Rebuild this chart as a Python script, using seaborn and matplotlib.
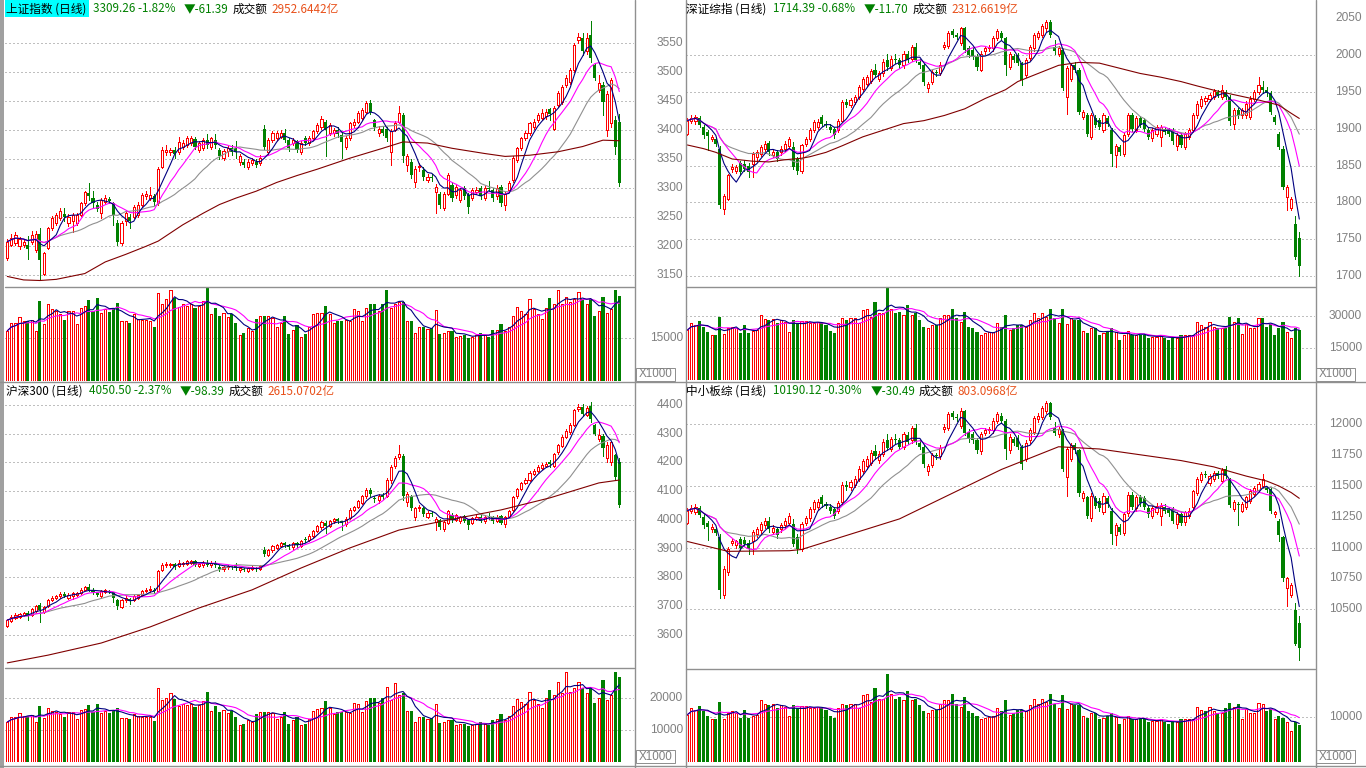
import numpy as np
import pandas as pd
import matplotlib
matplotlib.use("Agg")
import matplotlib.pyplot as plt
from matplotlib.lines import Line2D
from matplotlib.patches import Rectangle
from matplotlib.transforms import blended_transform_factory
import seaborn as sns

sns.set_theme(style="white")
plt.rcParams["font.family"] = ["Noto Sans CJK SC", "DejaVu Sans"]

# ---------------- data: 上证指数 ----------------
sh_open = [3179,3203,3205,3200,3202,3202,3208,3194,3222,3153,
3197,3232,3240,3248,3256,3240,3243,3240,3254,3274,
3292,3283,3271,3257,3277,3281,3274,3240,3205,3243,
3251,3251,3254,3271,3286,3283,3286,3274,3337,3363,
3363,3366,3363,3372,3375,3378,3385,3366,3369,3383,
3372,3383,3366,3353,3364,3369,3369,3346,3346,3337,
3343,3346,3343,3403,3363,3383,3386,3389,3395,3383,
3378,3381,3363,3386,3378,3386,3398,3406,3415,3395,
3395,3400,3392,3372,3386,3409,3415,3421,3432,3447,
3418,3395,3403,3403,3363,3401,3415,3426,3340,3346,
3311,3336,3332,3314,3320,3294,3291,3266,3291,3306,
3289,3280,3300,3289,3283,3294,3300,3283,3301,3297,
3286,3303,3271,3297,3314,3349,3369,3386,3395,3406,
3418,3421,3424,3436,3403,3444,3449,3478,3484,3504,
3556,3559,3536,3564,3513,3470,3478,3400,3412,3418,
3414]
sh_close = [3208,3215,3219,3212,3208,3196,3220,3222,3177,3188,
3232,3248,3254,3260,3250,3251,3254,3254,3274,3294,
3286,3274,3265,3280,3284,3278,3254,3208,3240,3257,
3243,3268,3271,3289,3291,3288,3277,3334,3366,3366,
3366,3360,3380,3378,3386,3386,3372,3378,3383,3375,
3386,3375,3355,3364,3369,3363,3363,3355,3341,3346,
3349,3340,3353,3372,3383,3395,3395,3395,3383,3369,
3383,3366,3378,3378,3386,3398,3409,3420,3400,3409,
3400,3394,3380,3386,3412,3415,3429,3435,3447,3432,
3406,3403,3395,3386,3398,3412,3429,3355,3355,3323,
3334,3339,3320,3320,3317,3303,3271,3291,3323,3283,
3303,3297,3286,3268,3297,3297,3286,3300,3299,3283,
3300,3274,3291,3309,3352,3369,3386,3395,3412,3415,
3426,3429,3431,3428,3438,3464,3475,3490,3504,3547,
3561,3536,3559,3524,3490,3481,3449,3462,3487,3370.65,
3309.26]
sh_high = [3212,3222,3225,3216,3212,3218,3227,3226,3231,3191,
3234,3252,3258,3266,3266,3256,3258,3258,3276,3296,
3309,3295,3276,3283,3288,3285,3277,3245,3243,3262,
3256,3272,3276,3292,3296,3303,3290,3336,3372,3375,
3370,3372,3388,3383,3391,3391,3389,3382,3387,3393,
3389,3394,3370,3368,3373,3374,3381,3360,3351,3350,
3353,3350,3357,3410,3386,3399,3399,3400,3403,3386,
3387,3384,3381,3390,3390,3401,3412,3424,3418,3413,
3404,3405,3396,3390,3415,3420,3433,3439,3450,3452,
3420,3407,3408,3406,3402,3416,3442,3430,3359,3350,
3338,3344,3336,3325,3325,3308,3294,3294,3326,3310,
3306,3300,3304,3292,3300,3302,3304,3304,3312,3300,
3305,3306,3294,3312,3355,3372,3389,3399,3415,3419,
3430,3436,3436,3439,3442,3467,3478,3496,3508,3550,
3567,3568,3568,3588,3516,3495,3484,3468,3490,3425,
3428]
sh_low = [3176,3200,3202,3195,3198,3178,3204,3190,3142,3150,
3195,3228,3236,3245,3244,3235,3225,3236,3252,3271,
3280,3268,3260,3248,3273,3274,3237,3202,3203,3236,
3232,3248,3250,3268,3282,3280,3272,3272,3335,3358,
3358,3352,3360,3368,3372,3374,3368,3362,3366,3370,
3368,3370,3350,3348,3355,3358,3352,3340,3336,3334,
3340,3336,3340,3368,3360,3380,3383,3386,3380,3365,
3374,3362,3360,3374,3374,3383,3395,3403,3355,3392,
3390,3388,3352,3368,3383,3405,3412,3418,3429,3428,
3400,3390,3392,3382,3340,3398,3412,3346,3330,3318,
3303,3330,3315,3310,3312,3257,3266,3262,3288,3278,
3284,3276,3282,3257,3280,3290,3282,3280,3296,3278,
3282,3270,3262,3294,3310,3346,3366,3383,3392,3403,
3414,3418,3420,3418,3400,3440,3446,3475,3480,3500,
3550,3530,3532,3518,3486,3466,3426,3390,3405,3359,
3304]
sh_vol = [17500,20200,20200,22300,20800,20800,21400,17500,28000,19900,
27000,25000,24400,23200,21400,24400,24400,19900,25600,26200,
28200,24400,28900,23600,25200,24000,25000,27100,20800,20800,
20200,23200,21800,21400,21400,21100,19000,30600,27000,28600,
31800,28900,25800,26800,26200,26800,25300,26200,28000,32700,
23200,25600,22600,23800,22300,23200,20200,16100,16700,18400,
17500,21800,22600,22600,22600,22000,19000,20200,22600,16300,
17900,19600,15500,16300,19000,23200,23800,23800,26200,23400,
20200,21100,21100,21400,20800,25000,24400,20800,25600,26800,
27000,24400,27000,31800,25600,27000,27400,27400,20800,20800,
16700,19000,19000,18200,18400,24600,16300,16700,17300,17500,
15500,15800,16100,15100,15500,16100,16700,16100,15500,17900,
17900,19900,17300,19000,22600,25800,24400,23200,28600,25000,
23200,21800,25300,28900,26800,31800,26800,29200,27400,28600,
30900,28600,27000,28600,22600,24400,29400,23800,25000,31800,
29800]
sh_lma_idx = [0,4,8,12,19,24,29,34,37,40,43,48,52,56,61,66,71,76,84,92,97,103,109,117,122,128,135,141,146,150]
sh_lma_val = [3148,3142,3141,3143,3153,3173,3186,3200,3209,3223,3237,3257,3272,3283,3295,3310,3322,3333,3352,3369,3380,3378,3369,3360,3355,3357,3363,3372,3383,3382]

# ---------------- data: 深证综指 ----------------
sz_open = [1893,1911,1910,1914,1902,1895,1886,1886,1873,1791,
1805,1846,1843,1853,1852,1850,1852,1862,1866,1873,
1880,1865,1868,1868,1873,1877,1875,1859,1843,1880,
1886,1898,1902,1916,1907,1902,1900,1898,1911,1936,
1932,1936,1943,1954,1961,1965,1980,1968,1975,1993,
1982,1995,1993,1986,2001,1995,2011,1991,1986,1955,
1964,1977,1976,2011,2012,2032,2027,2016,2036,2009,
2007,1998,1980,2005,2009,2009,2023,2030,2023,1984,
1998,2000,1989,1973,1996,2009,2025,2027,2036,2045,
2011,2002,2007,1943,1968,1986,1980,1916,1918,1889,
1915,1912,1898,1914,1898,1864,1875,1866,1893,1918,
1898,1914,1912,1898,1887,1893,1889,1900,1898,1898,
1877,1891,1875,1889,1898,1918,1931,1937,1941,1943,
1950,1943,1950,1943,1907,1925,1918,1918,1916,1941,
1950,1956,1953,1948,1916,1893,1873,1807,1793,1771,
1752]
sz_close = [1911,1915,1916,1905,1891,1890,1889,1880,1796,1809,
1837,1848,1848,1841,1846,1841,1866,1868,1875,1880,
1868,1869,1859,1873,1880,1886,1848,1843,1878,1886,
1898,1909,1909,1907,1905,1898,1891,1910,1936,1932,
1939,1943,1957,1967,1970,1978,1973,1975,1991,1984,
1995,1993,1986,2002,1993,2011,1993,1986,1964,1961,
1977,1975,1987,2014,2030,2027,2025,2036,2007,2000,
1998,1984,2002,2009,2011,2023,2032,2023,1986,2001,
1993,1989,1966,1993,2011,2027,2030,2039,2045,2027,
2005,2009,1955,1982,1986,1980,1923,1923,1893,1918,
1905,1902,1918,1907,1866,1877,1868,1891,1918,1900,
1914,1905,1900,1889,1898,1902,1902,1896,1893,1883,
1891,1878,1893,1898,1918,1934,1941,1942,1946,1951,
1946,1952,1943,1911,1925,1918,1925,1934,1941,1950,
1960,1952,1948,1923,1909,1875,1821,1821,1805,1726.09,
1714.39]
sz_high = [1914,1918,1919,1917,1905,1898,1892,1889,1876,1812,
1839,1852,1851,1856,1857,1853,1868,1871,1878,1883,
1884,1872,1871,1876,1883,1889,1882,1862,1880,1889,
1901,1912,1913,1919,1911,1906,1903,1913,1939,1940,
1942,1946,1960,1970,1973,1981,1988,1978,1994,2001,
1998,2001,1996,2005,2005,2014,2016,1994,1988,1964,
1980,1980,1990,2017,2033,2035,2030,2038,2038,2012,
2010,2001,2005,2012,2014,2026,2035,2033,2025,2004,
2001,2003,1991,1996,2014,2030,2033,2042,2047,2047,
2020,2012,2010,1985,1989,1990,1983,1926,1921,1921,
1918,1915,1921,1917,1901,1880,1878,1894,1921,1921,
1917,1917,1915,1901,1901,1905,1905,1903,1901,1901,
1894,1894,1896,1901,1921,1937,1944,1945,1949,1954,
1953,1960,1953,1946,1928,1928,1928,1937,1944,1953,
1970,1965,1956,1951,1919,1896,1876,1824,1808,1782,
1760]
sz_low = [1891,1908,1907,1902,1888,1871,1883,1876,1793,1784,
1803,1842,1840,1838,1843,1834,1834,1858,1863,1870,
1865,1862,1856,1865,1870,1874,1845,1838,1840,1877,
1883,1895,1899,1904,1902,1895,1888,1895,1909,1929,
1929,1933,1940,1951,1958,1962,1970,1965,1972,1980,
1979,1989,1982,1983,1990,1992,1990,1983,1960,1950,
1961,1972,1973,2008,2009,2024,2022,2013,2004,1997,
1995,1980,1978,2002,2006,2006,2020,2020,1973,1981,
1990,1986,1960,1970,1993,2006,2022,2024,2033,2024,
2002,1999,1952,1920,1965,1977,1920,1913,1890,1886,
1902,1899,1895,1904,1850,1848,1865,1863,1890,1897,
1895,1902,1897,1886,1884,1890,1876,1893,1890,1880,
1871,1875,1872,1886,1895,1915,1928,1934,1938,1940,
1943,1940,1940,1905,1900,1915,1915,1915,1913,1938,
1947,1949,1945,1920,1906,1872,1818,1790,1790,1724,
1700]
sz_vol = [23400,26600,25700,27600,25000,22600,21100,21100,29600,21400,
24200,25000,24200,21800,25700,21800,22900,23400,30700,28500,
28100,28500,26600,28100,27300,22600,28100,26600,27600,27600,
26600,26600,27300,26600,25700,22900,21800,26600,28900,28100,
28900,28900,26600,32800,33500,29600,36700,31200,31200,42900,
33500,31200,32000,30400,35100,30400,31200,28100,25000,24200,
25700,25700,28900,30400,30400,33500,28900,27300,32000,25000,
24200,22600,21100,21800,22300,22600,26600,25000,30400,23400,
24200,25700,25700,25000,28100,31200,28900,31200,29600,33500,
28900,26600,33200,26100,28900,28100,28100,22900,21800,24200,
24200,21100,21800,22600,24200,22300,18700,21100,22900,21100,
21100,21100,21100,19500,20300,20300,21100,19800,18700,19800,
19800,21100,21100,21100,21100,27300,25700,25000,27300,25000,
24500,24200,24200,29600,27300,28900,21400,26100,24500,24200,
29200,28900,25000,26100,21100,24500,27300,22600,19500,24200,
23400]
sz_lma_idx = [0,4,7,11,16,20,24,28,30,34,38,43,48,53,58,63,68,73,78,81,86,91,96,101,106,111,116,121,125,130,135,140,145,148,150]
sz_lma_val = [1878,1873,1868,1859,1856,1855,1858,1860,1862,1868,1877,1889,1898,1907,1911,1918,1927,1941,1953,1964,1975,1986,1990,1989,1982,1975,1970,1964,1958,1951,1945,1939,1932,1921,1914]

# ---------------- data: 沪深300 ----------------
hs_open = [3632,3650,3660,3664,3670,3676,3670,3685,3704,3680,
3700,3722,3728,3734,3742,3730,3735,3740,3746,3758,
3766,3755,3746,3735,3750,3752,3748,3720,3698,3722,
3726,3722,3728,3740,3752,3755,3758,3752,3825,3842,
3843,3846,3840,3846,3848,3850,3856,3840,3842,3852,
3842,3850,3838,3828,3836,3840,3840,3825,3830,3824,
3830,3834,3830,3895,3878,3895,3904,3910,3920,3912,
3905,3920,3910,3935,3930,3945,3962,3975,3990,3978,
3995,4002,3995,3985,4008,4035,4045,4060,4082,4105,
4078,4068,4088,4085,4140,4188,4218,4222,4062,4082,
4012,4040,4040,4012,4026,3992,4000,3968,3990,4018,
4000,3996,4014,4000,3990,4004,4012,3996,4012,4010,
3996,4015,3985,4012,4035,4082,4108,4128,4140,4160,
4172,4180,4188,4202,4188,4235,4258,4290,4305,4332,
4385,4394,4364,4396,4330,4282,4292,4215,4200,4225,
4200]
hs_close = [3652,3662,3670,3672,3675,3668,3690,3702,3688,3698,
3722,3730,3735,3742,3736,3740,3746,3745,3758,3768,
3758,3748,3740,3752,3755,3750,3728,3700,3720,3730,
3718,3735,3740,3752,3758,3760,3752,3822,3845,3846,
3847,3838,3852,3850,3856,3858,3845,3848,3852,3845,
3852,3842,3830,3836,3840,3835,3834,3832,3826,3832,
3836,3828,3840,3880,3895,3908,3912,3920,3912,3905,
3920,3912,3928,3930,3945,3962,3978,3992,3980,3995,
4002,3995,3988,4005,4035,4045,4065,4082,4105,4092,
4072,4085,4080,4140,4185,4215,4228,4085,4090,4042,
4040,4046,4022,4026,4020,4005,3975,3992,4030,4000,
4016,4010,3998,3982,4008,4010,3998,4012,4010,3995,
4012,3990,4010,4030,4080,4108,4128,4140,4165,4172,
4185,4192,4196,4194,4228,4262,4290,4310,4330,4382,
4394,4368,4390,4350,4300,4296,4250,4262,4272,4148.89,
4050.50]
hs_high = [3656,3668,3675,3676,3680,3684,3695,3706,3712,3702,
3726,3735,3740,3748,3750,3745,3750,3750,3762,3772,
3778,3762,3750,3756,3760,3756,3750,3724,3724,3735,
3730,3740,3744,3756,3762,3770,3762,3826,3852,3855,
3852,3850,3860,3855,3862,3862,3860,3852,3856,3860,
3856,3858,3842,3840,3844,3845,3850,3836,3834,3836,
3840,3838,3844,3905,3900,3912,3916,3924,3925,3916,
3924,3924,3932,3940,3950,3966,3982,3996,3995,3999,
4006,4006,3998,4010,4040,4050,4070,4088,4110,4112,
4085,4090,4094,4145,4190,4222,4262,4230,4096,4088,
4046,4052,4046,4032,4032,4010,4004,3996,4034,4024,
4020,4014,4018,4004,4012,4016,4016,4016,4024,4014,
4018,4018,4014,4034,4084,4112,4132,4145,4170,4176,
4190,4198,4202,4208,4232,4266,4294,4318,4336,4386,
4402,4404,4398,4412,4334,4316,4298,4272,4276,4230,
4215]
hs_low = [3628,3646,3655,3660,3666,3652,3666,3680,3645,3675,
3697,3718,3724,3730,3732,3726,3725,3736,3743,3755,
3752,3742,3735,3730,3746,3745,3715,3690,3694,3716,
3708,3718,3724,3736,3748,3750,3746,3750,3822,3836,
3838,3830,3836,3840,3844,3846,3840,3836,3838,3840,
3838,3838,3824,3822,3830,3830,3826,3820,3822,3820,
3826,3824,3826,3875,3874,3890,3900,3906,3906,3900,
3900,3906,3906,3924,3926,3940,3958,3970,3955,3974,
3990,3990,3965,3980,4004,4030,4040,4056,4078,4085,
4062,4060,4074,4080,4130,4180,4212,4070,4050,4035,
4000,4032,4015,4006,4014,3965,3968,3962,3985,3994,
3995,3990,3992,3970,3986,4000,3992,3990,4004,3990,
3992,3985,3975,4008,4030,4078,4104,4124,4136,4156,
4168,4176,4184,4186,4184,4230,4254,4286,4300,4326,
4378,4360,4360,4342,4294,4276,4222,4200,4192,4140,
4045]
hs_vol = [12500,14000,14200,15200,14300,14300,14800,12500,17500,13800,
17000,16000,15600,15000,14200,15600,15600,13500,16200,16600,
17800,15600,18200,15200,16000,15400,16000,17000,13800,13800,
13500,15000,14300,14200,14200,14000,12800,23000,19500,20000,
21500,19800,17500,18200,17800,18200,17200,17800,19000,22000,
16000,17500,15600,16300,15400,16000,14000,11500,12000,13000,
12500,15000,15600,15600,15600,15200,13500,14200,15600,12000,
13000,14000,11500,12000,13500,16000,16500,17000,19000,17000,
15000,15500,15500,15600,15200,18500,18000,15500,19000,20000,
20000,18500,20000,23500,19500,24700,21000,21500,16000,16000,
12500,14000,14000,13500,13600,18000,12200,12500,13000,13200,
11500,11800,12000,11200,11500,12000,12500,12000,11500,13200,
13500,15000,13000,14500,17500,19800,18800,18000,22000,19500,
18000,17000,20000,22500,21000,25000,21500,28000,22000,23000,
25000,23000,21500,23000,18500,20000,25500,19500,21000,28000,
26500]
hs_lma_idx = [0,10,23,35,47,60,72,84,96,108,121,133,145,150]
hs_lma_val = [3503,3530,3572,3628,3694,3757,3833,3903,3965,4000,4035,4077,4129,4139]

# ---------------- data: 中小板综 ----------------
zx_open = [11200,11300,11290,11320,11250,11200,11150,11150,11090,10620,
10800,11040,11020,11070,11060,11040,11050,11110,11140,11180,
11220,11130,11150,11150,11180,11200,11190,11090,10990,11200,
11240,11310,11330,11410,11350,11330,11310,11300,11370,11510,
11490,11510,11560,11620,11660,11690,11780,11710,11760,11870,
11800,11880,11870,11820,11910,11870,11970,11850,11820,11620,
11670,11750,11740,11960,11970,12090,12060,11990,12110,11940,
11920,11870,11780,11930,11950,11950,12030,12070,12030,11790,
11880,11890,11820,11720,11870,11940,12040,12060,12110,12170,
11970,11920,11950,11570,11720,11830,11790,11400,11410,11240,
11400,11380,11290,11400,11300,11100,11170,11120,11280,11430,
11320,11410,11400,11320,11260,11290,11260,11330,11310,11310,
11190,11270,11206,11260,11330,11447,11546,11600,11527,11554,
11607,11540,11634,11554,11313,11353,11300,11326,11380,11433,
11468,11500,11480,11473,11273,11219,11087,10670,10620,10497,
10390]
zx_close = [11300,11325,11330,11265,11180,11170,11170,11120,10660,10830,
10990,11050,11050,11000,11030,10990,11130,11150,11190,11220,
11150,11160,11100,11180,11220,11260,11030,10990,11190,11240,
11310,11370,11370,11350,11340,11300,11260,11360,11510,11490,
11530,11560,11640,11700,11720,11770,11740,11760,11860,11810,
11880,11870,11820,11920,11860,11970,11860,11820,11680,11660,
11750,11740,11810,11980,12080,12060,12050,12110,11930,11880,
11870,11790,11920,11950,11960,12030,12080,12030,11800,11900,
11850,11820,11680,11850,11950,12050,12070,12130,12170,12060,
11930,11960,11640,11800,11830,11790,11440,11440,11260,11420,
11340,11320,11420,11350,11110,11180,11130,11270,11430,11330,
11410,11360,11330,11270,11320,11340,11340,11300,11280,11220,
11270,11200,11286,11300,11460,11554,11599,11590,11580,11607,
11580,11628,11580,11345,11366,11345,11353,11407,11460,11487,
11519,11554,11468,11297,11290,11099,10750,10750,10700,10220.61,
10190.12]
zx_high = [11320,11345,11350,11335,11270,11220,11190,11170,11110,10850,
11005,11070,11065,11085,11090,11060,11145,11170,11210,11240,
11245,11180,11170,11200,11240,11280,11230,11110,11210,11260,
11330,11390,11395,11430,11370,11350,11330,11380,11530,11540,
11550,11580,11660,11720,11740,11790,11830,11780,11880,11920,
11900,11920,11890,11940,11940,11990,12000,11870,11830,11680,
11770,11770,11830,12000,12100,12110,12080,12130,12120,11960,
11940,11890,11940,11970,11980,12050,12100,12090,12040,11920,
11900,11910,11830,11870,11970,12070,12090,12150,12190,12180,
12020,11980,11960,11820,11850,11850,11800,11460,11420,11440,
11420,11400,11440,11420,11320,11200,11190,11290,11450,11450,
11430,11430,11420,11340,11340,11360,11360,11350,11330,11330,
11290,11290,11300,11320,11470,11570,11615,11620,11600,11625,
11625,11645,11660,11565,11385,11370,11370,11420,11475,11500,
11535,11600,11495,11485,11300,11230,11095,10760,10715,10551,
10444]
zx_low = [11190,11280,11275,11245,11160,11060,11130,11100,10590,10590,
10780,11020,11000,10980,11010,10950,10950,11090,11120,11160,
11130,11110,11080,11130,11160,11180,11010,10960,10970,11180,
11220,11290,11310,11330,11320,11280,11240,11280,11350,11470,
11470,11490,11540,11600,11640,11670,11720,11690,11740,11790,
11780,11840,11800,11800,11840,11850,11840,11800,11650,11590,
11650,11720,11720,11940,11950,12040,12030,11970,11910,11860,
11850,11770,11760,11910,11930,11930,12010,12010,11720,11770,
11830,11800,11640,11700,11850,11920,12020,12040,12090,12040,
11910,11900,11620,11420,11700,11770,11420,11380,11240,11220,
11320,11300,11270,11330,11030,11020,11110,11100,11260,11310,
11300,11340,11310,11250,11240,11270,11180,11280,11260,11200,
11160,11180,11180,11240,11310,11430,11530,11575,11510,11540,
11565,11525,11565,11330,11300,11180,11285,11310,11365,11420,
11455,11485,11455,11280,11250,11050,10730,10526,10600,10210,
10086]
zx_vol = [10500,12000,11600,12400,11300,10200,9500,9500,13300,9600,
10900,11300,10900,9800,11600,9800,10300,10500,13800,12800,
12600,12800,12000,12600,12300,10200,12600,12000,12400,12400,
12000,12000,12300,12000,11600,10300,9800,12000,13000,12600,
13000,13000,12000,14800,15100,13300,16500,14000,14000,19500,
15100,14000,14400,13700,15800,13700,14000,12600,11300,10900,
11600,11600,13000,13700,13700,15100,13000,12300,14400,11300,
10900,10200,9500,9800,10000,10200,12000,11300,13700,10500,
10900,11600,11600,11300,12600,14000,13000,14000,13300,15100,
13000,12000,14900,11700,13000,12600,12600,10300,9800,10900,
10900,9500,9800,10200,10900,10000,8400,9500,10300,9500,
9500,9500,9500,8800,9100,9100,9500,8900,8400,8900,
8900,9500,9500,9500,9500,12300,11600,11300,12300,11300,
11000,10900,12000,13200,12300,13000,9600,11700,11000,10900,
13100,13000,11300,11700,9500,10200,9800,8900,7000,8900,
8200]
zx_lma_idx = [0,10,25,28,52,77,91,101,121,129,137,142,145,148,150]
zx_lma_val = [11050,10970,10975,10985,11233,11634,11818,11800,11706,11655,11580,11540,11500,11447,11400]

# ---------------- labels ----------------
headers = [
    ["上证指数 (日线)", "3309.26 -1.82%", "▼-61.39", "成交额", "2952.6442亿"],
    ["深证综指 (日线)", "1714.39 -0.68%", "▼-11.70", "成交额", "2312.6619亿"],
    ["沪深300 (日线)", "4050.50 -2.37%", "▼-98.39", "成交额", "2615.0702亿"],
    ["中小板综 (日线)", "10190.12 -0.30%", "▼-30.49", "成交额", "803.0968亿"],
]
sh_ticks = [3550, 3500, 3450, 3400, 3350, 3300, 3250, 3200, 3150]
sz_ticks = [2050, 2000, 1950, 1900, 1850, 1800, 1750, 1700]
hs_ticks = [4400, 4300, 4200, 4100, 4000, 3900, 3800, 3700, 3600]
zx_ticks = [12000, 11750, 11500, 11250, 11000, 10750, 10500]

# ---------------- drawing ----------------
W, H = 1366, 768
fig = plt.figure(figsize=(W / 100, H / 100), dpi=100)
fig.patch.set_facecolor("white")

RED = "#FF0000"
GREEN = "#008000"
GRID = "#808080"
LABEL = "#808080"
PX = 0.72  # one pixel in points
LW = 0.8


def add_ax(x0, y0, x1, y1):
    ax = fig.add_axes([x0 / W, 1 - y1 / H, (x1 - x0) / W, (y1 - y0) / H])
    ax.set_axis_off()
    return ax


def fline(x0, y0, x1, y1, color="#909090", lw=1.0):
    fig.add_artist(Line2D([x0 / W, x1 / W], [1 - y0 / H, 1 - y1 / H],
                          transform=fig.transFigure, color=color, lw=lw))


def dotted(ax, v):
    ax.axhline(v, color=GRID, lw=PX, ls=(0, (1, 3)), zorder=0)


def candles(ax, o, h, l, c):
    o, h, l, c = map(np.asarray, (o, h, l, c))
    idx = np.arange(len(c))
    up = c >= o
    dn = ~up
    ax.vlines(idx[up], c[up], h[up], color=RED, lw=PX, antialiased=False, zorder=2)
    ax.vlines(idx[up], l[up], o[up], color=RED, lw=PX, antialiased=False, zorder=2)
    ax.bar(idx[up], (c - o)[up], bottom=o[up], width=0.52, facecolor="white",
           edgecolor=RED, linewidth=PX, antialiased=False, zorder=3)
    ax.vlines(idx[dn], l[dn], h[dn], color=GREEN, lw=PX, antialiased=False, zorder=2)
    ax.bar(idx[dn], (o - c)[dn], bottom=c[dn], width=0.76, color=GREEN,
           linewidth=0, antialiased=False, zorder=3)


def volumes(ax, o, c, v):
    o, c, v = map(np.asarray, (o, c, v))
    idx = np.arange(len(v))
    up = c >= o
    dn = ~up
    ax.bar(idx[up], v[up], width=0.52, facecolor="white", edgecolor=RED,
           linewidth=PX, antialiased=False, zorder=2)
    ax.bar(idx[dn], v[dn], width=0.76, color=GREEN, linewidth=0,
           antialiased=False, zorder=2)


def ma_line(ax, y, n, color):
    s = pd.Series(y).rolling(n, min_periods=1).mean().to_numpy()
    sns.lineplot(x=np.arange(len(s)), y=s, ax=ax, color=color, linewidth=LW,
                 legend=False, errorbar=None, sort=False, zorder=4)


def panel(px0, px1, ytop, ysplit, vbot, first_px, o, h, l, c, v,
          lma_i, lma_v, plim, vtop, pgrid, ticks, vticks, label_x):
    sp = 4.08
    xl = ((px0 - first_px) / sp, (px1 - first_px) / sp)
    axp = add_ax(px0, ytop, px1, ysplit)
    axp.set_xlim(*xl)
    axp.set_ylim(*plim)
    for g in pgrid:
        dotted(axp, g)
    candles(axp, o, h, l, c)
    ma_line(axp, c, 20, "#909090")
    ma_line(axp, c, 10, "#FF00FF")
    ma_line(axp, c, 5, "#000080")
    sns.lineplot(x=lma_i, y=lma_v, ax=axp, color="#800000", linewidth=LW,
                 legend=False, errorbar=None, sort=False, zorder=4)
    tr = blended_transform_factory(fig.transFigure, axp.transData)
    for t in ticks:
        axp.text(label_x / W, t, str(t), transform=tr, ha="right", va="center",
                 color=LABEL, fontsize=8.6, family=["Liberation Sans"])

    axv = add_ax(px0, ysplit, px1, vbot)
    axv.set_xlim(*xl)
    axv.set_ylim(0, vtop)
    for t in vticks:
        dotted(axv, t)
    volumes(axv, o, c, v)
    ma_line(axv, v, 10, "#FF00FF")
    ma_line(axv, v, 5, "#000080")
    trv = blended_transform_factory(fig.transFigure, axv.transData)
    for t in vticks:
        axv.text(label_x / W, t, str(t), transform=trv, ha="right", va="center",
                 color=LABEL, fontsize=8.6, family=["Liberation Sans"])
    fline(px0, ysplit, px1, ysplit)


# top-left 上证指数
panel(5, 634, 0, 287, 381, 7.3, sh_open, sh_high, sh_low, sh_close, sh_vol,
      sh_lma_idx, sh_lma_val, (3129.8, 3624.7), 32790, sh_ticks, sh_ticks, [15000], 683)
# top-right 深证综指
panel(686, 1315, 0, 287, 380, 687.3, sz_open, sz_high, sz_low, sz_close, sz_vol,
      sz_lma_idx, sz_lma_val, (1685.4, 2074.6), 43594, sz_ticks[1:], sz_ticks, [30000, 15000], 1362)
# bottom-left 沪深300
panel(5, 634, 382, 668, 762, 7.3, hs_open, hs_high, hs_low, hs_close, hs_vol,
      hs_lma_idx, hs_lma_val, (3485.2, 4480.0), 29375, hs_ticks, hs_ticks, [20000, 10000], 683)
# bottom-right 中小板综
panel(686, 1315, 382, 669, 762, 687.3, zx_open, zx_high, zx_low, zx_close, zx_vol,
      zx_lma_idx, zx_lma_val, (10016.0, 12343.0), 20667, [12000, 11500, 11000, 10500],
      zx_ticks, [10000], 1362)

# frame lines
fig.add_artist(Rectangle((0, 0), 4 / W, 1, transform=fig.transFigure,
                         facecolor="#A0A0A0", edgecolor="none"))
for xx in (634.5, 685.5, 1315.5):
    fline(xx, 0, xx, 768)
fline(0, 382, 1366, 382)
fline(0, 766, 1366, 766)

# X1000 boxes
for bx, by in ((636, 368), (1316, 368), (636, 750), (1316, 750)):
    fig.add_artist(Rectangle((bx / W, 1 - (by + 13) / H), 39 / W, 13 / H,
                             transform=fig.transFigure, facecolor="white",
                             edgecolor="#909090", lw=PX))
    fig.text((bx + 19.5) / W, 1 - (by + 6.5) / H, "X1000", ha="center", va="center",
             color=LABEL, fontsize=8.4, family=["Liberation Sans"])

# header texts
fig.add_artist(Rectangle((5 / W, 1 - 17 / H), 84 / W, 17 / H, transform=fig.transFigure,
                         facecolor="#00FFFF", edgecolor="none"))
hx = [
    (6, 93, 184, 233, 271, 9),
    (686, 773, 864, 913, 951, 9),
    (6, 89, 180, 229, 267, 391),
    (686, 773, 871, 919, 958, 391),
]
cols = ["#000000", "#008000", "#008000", "#000000", "#E8501A"]
for texts, pos in zip(headers, hx):
    yy = 1 - pos[5] / H
    for t, x, col in zip(texts, pos[:5], cols):
        fig.text(x / W, yy, t, ha="left", va="center", color=col, fontsize=8.4,
                 family=["Noto Sans CJK SC", "DejaVu Sans"])

fig.savefig("out.png", dpi=100, facecolor="white")
